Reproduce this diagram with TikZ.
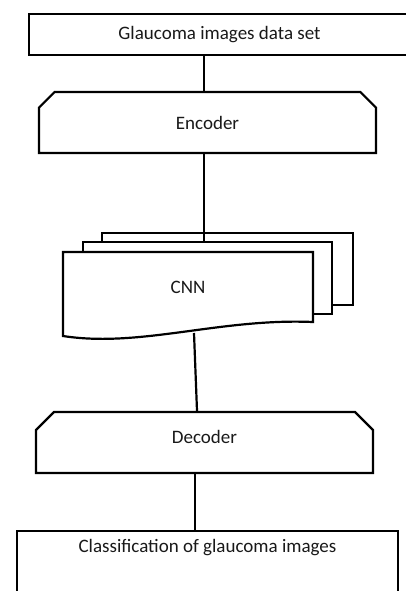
\documentclass[tikz,border=0pt]{standalone}
\usepackage{fontspec}
\setmainfont{Carlito}
\usetikzlibrary{shapes.misc}
\tikzset{
  every node/.style={font=\fontsize{19}{23}\selectfont, text=black!90},
  box/.style={draw=black, line width=2.2pt, fill=white, rectangle, inner sep=0pt},
  chambox/.style={draw=black, line width=2.2pt, fill=white, chamfered rectangle,
    chamfered rectangle corners={north west,north east},
    chamfered rectangle xsep=9pt, chamfered rectangle ysep=9pt, inner sep=0pt},
  sheet/.style={draw=black, line width=2.2pt, fill=white},
  link/.style={draw=black, line width=2.2pt}
}
\begin{document}
\begin{tikzpicture}[x=1pt,y=-1pt]
  \useasboundingbox (0,0) rectangle (406,591);
  \clip (0,0) rectangle (406,591);
  \fill[white] (0,0) rectangle (406,591);

  % input data
  \node[box, minimum width=381pt, minimum height=41pt] (data) at (219.5,34.5) {Glaucoma images data set};

  % encoder
  \node[chambox, minimum width=337pt, minimum height=61pt] (enc) at (207.5,122.5) {Encoder};

  % stacked CNN sheets
  \node[box, minimum width=251pt, minimum height=72pt] (back) at (227.5,269) {};
  \coordinate (midtop) at (204,242);
  \draw[link] ([xshift=-3.5pt]enc.south) -- (midtop);
  \node[box, minimum width=249pt, minimum height=72pt] (mid) at (207.5,278) {};
  \draw[sheet] (63,252) -- (313,252) -- (313,322)
    .. controls (220,318) and (140,348) .. (63,336) -- cycle;
  \node (cnn) at (188,287) {CNN};
  \coordinate (cnnbot) at (194,333);

  % decoder (text sits a little above the middle)
  \node[chambox, minimum width=337pt, minimum height=61pt, text height=13pt, text depth=12pt] (dec) at (204.5,442.5) {Decoder};

  % output
  \node[box, minimum width=381pt, minimum height=80pt, anchor=north] (cls) at (207.5,530) {};
  \path (cls.north) ++(0,18) node (clstext) {Classification of glaucoma images};

  % connectors
  \draw[link] ([xshift=-3.5pt]enc.north) -- ([xshift=-3.5pt]enc.north |- data.south);
  \draw[link] (cnnbot) -- ([xshift=-7.5pt]dec.north);
  \draw[link] ([xshift=-9.5pt]dec.south) -- ([xshift=-12.5pt]cls.north);
\end{tikzpicture}
\end{document}
